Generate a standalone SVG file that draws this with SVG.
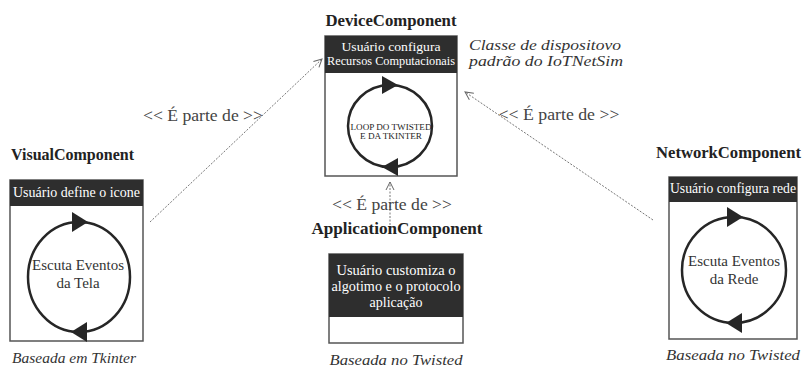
<svg xmlns="http://www.w3.org/2000/svg" width="804" height="368" viewBox="0 0 804 368" font-family="'Liberation Serif', 'DejaVu Serif', serif">
<defs>
<marker id="open" markerWidth="10" markerHeight="10" refX="9" refY="5" orient="auto" markerUnits="userSpaceOnUse">
<path d="M1,1 L9,5 L1,9" fill="none" stroke="#666" stroke-width="1"/>
</marker>
</defs>
<style>
text{font-family:'Liberation Serif','DejaVu Serif',serif}
.title{font-weight:bold;font-size:16.5px;fill:#222}
.box{fill:#fff;stroke:#555;stroke-width:1.5}
.hdr{fill:#2e2e2e}
.ht{font-size:14px;fill:#fff;text-anchor:middle}
.hs{font-size:12.3px}
.loop{fill:none;stroke:#262626;stroke-width:2.5}
.tri{fill:#262626}
.ct{font-size:15px;fill:#333;text-anchor:middle}
.cs{font-size:9px;fill:#222}
.cap{font-style:italic;font-size:15.5px;fill:#333}
.lbl{font-size:16px;fill:#444;text-anchor:middle}
.conn{fill:none;stroke:#777;stroke-width:1;stroke-dasharray:2 1.5}
</style>
<rect width="804" height="368" fill="#fff"/>

<g id="connectors">
<line class="conn" x1="150" y1="222" x2="322" y2="59" marker-end="url(#open)"/>
<line class="conn" x1="653" y1="220" x2="465" y2="92" marker-end="url(#open)"/>
<line class="conn" x1="390" y1="225" x2="390" y2="182" marker-end="url(#open)"/>
<text class="lbl" x="203" y="121" textLength="120" lengthAdjust="spacingAndGlyphs">&lt;&lt; É parte de &gt;&gt;</text>
<text class="lbl" x="559" y="120" textLength="121" lengthAdjust="spacingAndGlyphs">&lt;&lt; É parte de &gt;&gt;</text>
<text class="lbl" x="392" y="210" textLength="120" lengthAdjust="spacingAndGlyphs">&lt;&lt; É parte de &gt;&gt;</text>
</g>

<g id="device">
<text class="title" x="391" y="26" text-anchor="middle" textLength="131" lengthAdjust="spacingAndGlyphs">DeviceComponent</text>
<rect class="box" x="325" y="36" width="132" height="140"/>
<rect class="hdr" x="325" y="36" width="132" height="37"/>
<text class="ht hs" x="391" y="51" textLength="99" lengthAdjust="spacingAndGlyphs">Usuário configura</text>
<text class="ht hs" x="391" y="65" textLength="128" lengthAdjust="spacingAndGlyphs">Recursos Computacionais</text>
<ellipse class="loop" cx="390" cy="126" rx="42" ry="41"/>
<path class="tri" d="M382,76 L398,85 L382,94 Z"/>
<path class="tri" d="M382,167 L398,158 L398,176 Z"/>
<text class="ct cs" x="391" y="130" textLength="81" lengthAdjust="spacingAndGlyphs">LOOP DO TWISTED</text>
<text class="ct cs" x="391" y="139" textLength="62" lengthAdjust="spacingAndGlyphs">E DA TKINTER</text>
<text class="cap" x="469" y="50" textLength="152" lengthAdjust="spacingAndGlyphs">Classe de dispositovo</text>
<text class="cap" x="469" y="66" textLength="154" lengthAdjust="spacingAndGlyphs">padrão do IoTNetSim</text>
</g>

<g id="visual">
<text class="title" x="11" y="160" textLength="123" lengthAdjust="spacingAndGlyphs">VisualComponent</text>
<rect class="box" x="10" y="180" width="133" height="161"/>
<rect class="hdr" x="10" y="180" width="133" height="26"/>
<text class="ht" x="76.5" y="197" textLength="127" lengthAdjust="spacingAndGlyphs">Usuário define o icone</text>
<ellipse class="loop" cx="79" cy="277" rx="51" ry="55"/>
<path class="tri" d="M72,212 L88,222 L72,232 Z"/>
<path class="tri" d="M71,332 L87,322 L87,342 Z"/>
<text class="ct" x="78" y="270" textLength="92" lengthAdjust="spacingAndGlyphs">Escuta Eventos</text>
<text class="ct" x="78" y="288">da Tela</text>
<text class="cap" x="12" y="363" textLength="124" lengthAdjust="spacingAndGlyphs">Baseada em Tkinter</text>
</g>

<g id="network">
<text class="title" x="656" y="158" textLength="145" lengthAdjust="spacingAndGlyphs">NetworkComponent</text>
<rect class="box" x="669" y="177" width="128" height="162"/>
<rect class="hdr" x="669" y="177" width="128" height="25"/>
<text class="ht" x="733" y="193" textLength="126" lengthAdjust="spacingAndGlyphs">Usuário configura rede</text>
<ellipse class="loop" cx="734" cy="270" rx="52" ry="53"/>
<path class="tri" d="M727,207 L743,217 L727,227 Z"/>
<path class="tri" d="M726,323 L742,313 L742,333 Z"/>
<text class="ct" x="734" y="266" textLength="92" lengthAdjust="spacingAndGlyphs">Escuta Eventos</text>
<text class="ct" x="734" y="284">da Rede</text>
<text class="cap" x="666" y="360" textLength="134" lengthAdjust="spacingAndGlyphs">Baseada no Twisted</text>
</g>

<g id="application">
<text class="title" x="397" y="234" text-anchor="middle" textLength="171" lengthAdjust="spacingAndGlyphs">ApplicationComponent</text>
<rect class="box" x="329" y="254" width="134" height="89"/>
<rect class="hdr" x="329" y="254" width="134" height="63"/>
<text class="ht" x="396" y="275" textLength="119" lengthAdjust="spacingAndGlyphs">Usuário customiza o</text>
<text class="ht" x="396" y="291" textLength="129" lengthAdjust="spacingAndGlyphs">algotimo e o protocolo</text>
<text class="ht" x="396" y="307">aplicação</text>
<text class="cap" x="396" y="365" text-anchor="middle" textLength="133" lengthAdjust="spacingAndGlyphs">Baseada no Twisted</text>
</g>
</svg>
